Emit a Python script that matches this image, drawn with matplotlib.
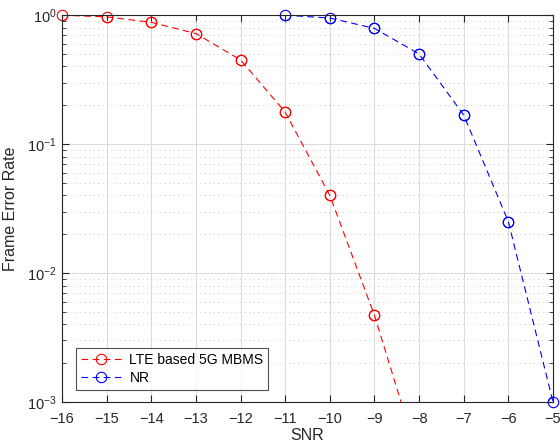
import numpy as np
import matplotlib
matplotlib.use('Agg')
from matplotlib import pyplot as plt
from matplotlib.ticker import LogLocator, LogFormatterMathtext, NullFormatter

plt.rcParams['font.family'] = ['Liberation Sans', 'DejaVu Sans']
plt.rcParams['mathtext.fontset'] = 'custom'
plt.rcParams['mathtext.rm'] = 'Liberation Sans'
plt.rcParams['mathtext.default'] = 'regular'

# data
snr_lte = [-16, -15, -14, -13, -12, -11, -10, -9, -8]
fer_lte = [1.0, 0.97, 0.88, 0.72, 0.45, 0.177, 0.040, 0.0047, 0.00035]
snr_nr = [-11, -10, -9, -8, -7, -6, -5]
fer_nr = [1.0, 0.95, 0.79, 0.50, 0.168, 0.025, 0.001]
labels = ['LTE based 5G MBMS', 'NR']
colors = ['r', 'b']

fig = plt.figure(figsize=(5.6, 4.46), dpi=100)
ax = fig.add_axes([0.1107, 0.0987, 0.8768, 0.8673])

for x, y, lab, c in zip([snr_lte, snr_nr], [fer_lte, fer_nr], labels, colors):
    ax.semilogy(x, y, '--o', color=c, lw=0.8, ms=7.5, mfc='none', mew=0.8,
                label=lab, dashes=(6, 4))
    # markers sitting on the axes edge are drawn in full, like matlab does
    x = np.array(x)
    y = np.array(y)
    keep = y >= 1e-3
    ax.plot(x[keep], y[keep], 'o', color=c, ms=7.5, mfc='none', mew=0.8,
            clip_on=False)

ax.set_xlim(-16, -5)
ax.set_ylim(1e-3, 1)
ax.set_xticks(np.arange(-16, -4, 1))
ax.yaxis.set_major_locator(LogLocator(base=10))
ax.yaxis.set_major_formatter(LogFormatterMathtext())
ax.yaxis.set_minor_locator(LogLocator(base=10, subs=np.arange(2, 10)))
ax.yaxis.set_minor_formatter(NullFormatter())

ax.grid(True, which='major', color='#dcdcdc', lw=0.8, ls='-')
ax.grid(True, which='minor', axis='y', color='#d0d0d0', lw=0.8, ls=(0, (1, 3)))
ax.set_axisbelow(True)

for s in ax.spines.values():
    s.set_color('#262626')
    s.set_linewidth(0.8)
ax.tick_params(which='both', direction='in', top=True, right=True,
               colors='#262626', labelsize=10.5, labelcolor='#262626')
ax.tick_params(which='major', length=5)
ax.tick_params(which='minor', length=3)
ax.tick_params(axis='x', which='major', pad=7)
ax.tick_params(axis='y', which='major', pad=4)

ax.set_xlabel('SNR', fontsize=11.5, color='#262626', labelpad=2)
ax.set_ylabel('Frame Error Rate', fontsize=11.5, color='#262626', labelpad=6)

leg = ax.legend(loc='lower left', bbox_to_anchor=(0.0285, 0.031), fontsize=10,
                frameon=True, fancybox=False, edgecolor='#262626',
                handlelength=2.9, handletextpad=0.6, borderpad=0.35,
                labelspacing=0.3, borderaxespad=0)
leg.get_frame().set_linewidth(0.8)

fig.savefig('out.png', dpi=100)
